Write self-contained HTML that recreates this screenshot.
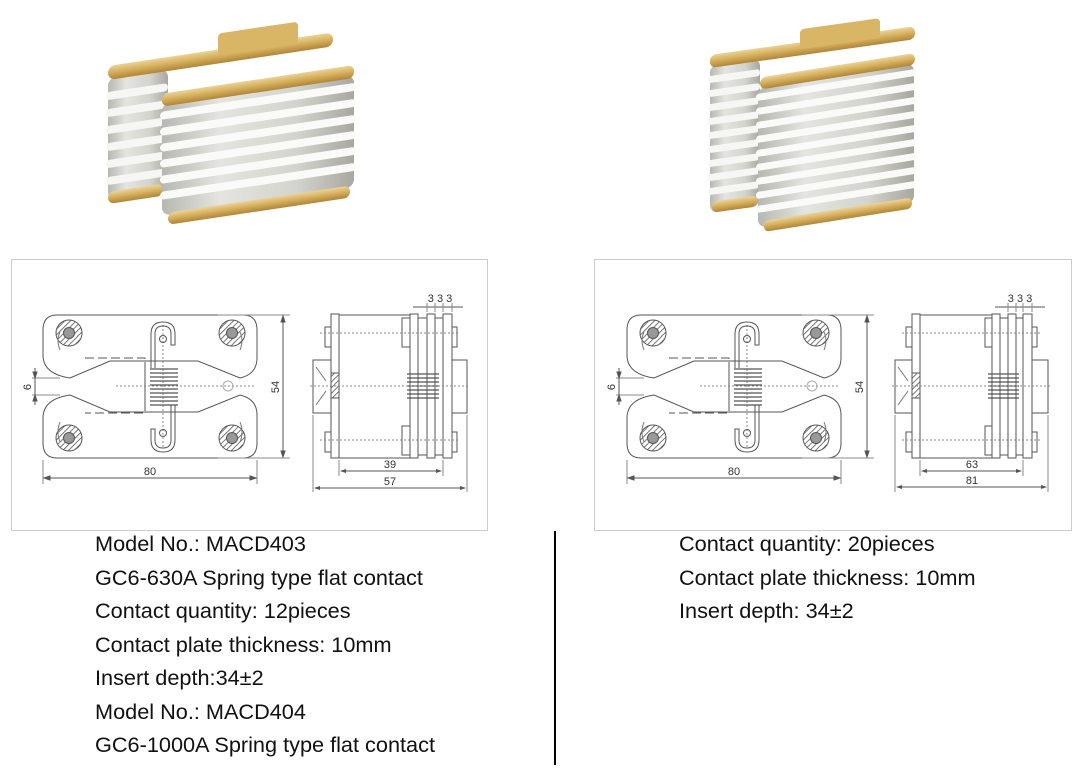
<!DOCTYPE html>
<html><head><meta charset="utf-8"><style>
body{margin:0;background:#fff;width:1084px;height:775px;overflow:hidden;position:relative;font-family:"Liberation Sans",Arial,sans-serif}
.t{position:absolute;font-size:21.7px;color:#111;white-space:nowrap;line-height:22px}
</style></head><body>
<svg width="1084" height="775" style="position:absolute;left:0;top:0" font-family="Liberation Sans, Arial, sans-serif">
<defs>
<linearGradient id="gold" x1="0" y1="0" x2="0" y2="1"><stop offset="0" stop-color="#ecd394"/><stop offset="0.5" stop-color="#d4ae5c"/><stop offset="1" stop-color="#b08538"/></linearGradient>
<linearGradient id="sil" x1="0" y1="0" x2="1" y2="0"><stop offset="0" stop-color="#b8b8b2"/><stop offset="0.3" stop-color="#e4e4e0"/><stop offset="0.7" stop-color="#d4d4ce"/><stop offset="1" stop-color="#a8a8a0"/></linearGradient>
<pattern id="hatch" width="4" height="4" patternUnits="userSpaceOnUse" patternTransform="rotate(45)"><rect width="4" height="4" fill="#fff"/><line x1="0" y1="0" x2="0" y2="4" stroke="#555" stroke-width="1.6"/></pattern>
<g id="screw"><circle r="13" fill="url(#hatch)" stroke="#555"/><circle r="5.5" fill="#999" stroke="#555"/></g>
<g id="front" fill="none" stroke="#555" stroke-width="1">
 <path d="M57,315 H243 Q257,315 257,330 V358 Q257,374 240,378 L198,361 H110 L70,378 Q43,374 43,355 V330 Q43,315 57,315Z"/>
 <path d="M57,458 H243 Q257,458 257,443 V415 Q257,399 240,395 L198,412 H110 L70,395 Q43,399 43,418 V443 Q43,458 57,458Z"/>
 <path d="M85,358 H145 V413 H85" stroke-dasharray="9,4"/>
 <line x1="145" y1="362" x2="145" y2="411"/>
 <line x1="116" y1="386" x2="255" y2="386" stroke-dasharray="2,2" stroke="#888"/>
 <line x1="163" y1="325" x2="163" y2="448" stroke-dasharray="2,2" stroke="#888"/>
 <circle cx="228" cy="386" r="5" stroke="#aaa"/>
 <path d="M151,368 V334 Q151,322 163,322 Q175,322 175,334 V345 H171 V334 Q171,326 163,326 Q155,326 155,334 V368"/>
 <path d="M175,405 V440 Q175,452 163,452 Q151,452 151,440 V429 H155 V440 Q155,448 163,448 Q171,448 171,440 V405"/>
 <circle cx="163" cy="339" r="3.5"/><circle cx="163" cy="433" r="3.5"/>
 <g stroke-width="1.3"><path d="M150,369 H178 M150,373 H178 M150,377 H178 M150,381 H178 M150,385 H178 M150,389 H178 M150,393 H178 M150,397 H178 M150,401 H178 M150,405 H178"/></g>
 <use href="#screw" x="69" y="333"/><use href="#screw" x="232" y="333"/><use href="#screw" x="69" y="438"/><use href="#screw" x="232" y="438"/>
 <path d="M60,350 Q56,340 60,332 M240,350 Q244,340 240,332 M60,422 Q56,432 60,442 M240,422 Q244,432 240,442" stroke="#777"/>
 <line x1="218" y1="315" x2="290" y2="315" stroke="#888"/><line x1="218" y1="458" x2="290" y2="458" stroke="#888"/>
 <line x1="283" y1="318" x2="283" y2="455"/><path d="M283,316 l-2,6 h4z M283,457 l-2,-6 h4z" fill="#555"/>
 <line x1="43" y1="460" x2="43" y2="484" stroke="#888"/><line x1="257" y1="460" x2="257" y2="484" stroke="#888"/>
 <line x1="45" y1="478" x2="255" y2="478"/><path d="M44,478 l6,-2 v4z M256,478 l-6,-2 v4z" fill="#555"/>
 <line x1="32" y1="378" x2="60" y2="378" stroke="#888"/><line x1="32" y1="395" x2="60" y2="395" stroke="#888"/>
 <line x1="35" y1="368" x2="35" y2="405"/><path d="M35,378 l-2,-6 h4z M35,395 l-2,6 h4z" fill="#555"/>
</g>
</defs>
<rect x="11.5" y="259.5" width="476" height="271" fill="none" stroke="#ccc"/>
<rect x="594.5" y="259.5" width="477" height="271" fill="none" stroke="#ccc"/>
<use href="#front"/>
<use href="#front" x="584"/>
<g font-size="11" fill="#333" text-anchor="middle">
<text x="150" y="475">80</text><text x="734" y="475">80</text>
<text transform="translate(31,387) rotate(-90)">6</text><text transform="translate(615,387) rotate(-90)">6</text>
<text transform="translate(279,387) rotate(-90)">54</text><text transform="translate(863,387) rotate(-90)">54</text>
</g>
<g fill="#fff" stroke="#555" stroke-width="1">
 <rect x="313" y="360" width="18" height="53"/>
 <rect x="325" y="327" width="6" height="20"/><rect x="325" y="432" width="6" height="20"/>
 <line x1="339" y1="315" x2="410" y2="315"/><line x1="339" y1="458" x2="410" y2="458"/>
 <rect x="331" y="314" width="8" height="144"/>
 <rect x="402" y="318" width="8" height="29"/><rect x="402" y="426" width="8" height="29"/>
 <rect x="410" y="314" width="8" height="144"/><rect x="418" y="318" width="9" height="137"/><rect x="427" y="314" width="8" height="144"/><rect x="435" y="318" width="8" height="137"/><rect x="443" y="314" width="9" height="144"/>
 <rect x="452" y="327" width="5" height="20"/><rect x="452" y="432" width="5" height="20"/>
 <rect x="452" y="360" width="15" height="53"/>
 <g stroke-width="1.3"><path d="M407,374 H439 M407,378 H439 M407,382 H439 M407,386 H439 M407,390 H439 M407,394 H439 M407,398 H439"/></g>
 <rect x="331" y="373" width="8" height="25" fill="url(#hatch)"/>
 <path d="M316,367 l10,14 M316,405 l10,-14" stroke="#777"/>
</g>
<g fill="#fff" stroke="#555" stroke-width="1">
 <rect x="895" y="360" width="17" height="53"/>
 <rect x="906" y="327" width="6" height="20"/><rect x="906" y="432" width="6" height="20"/>
 <line x1="920" y1="315" x2="992" y2="315"/><line x1="920" y1="458" x2="992" y2="458"/>
 <rect x="912" y="314" width="8" height="144"/>
 <rect x="985" y="318" width="7" height="29"/><rect x="985" y="426" width="7" height="29"/>
 <rect x="992" y="314" width="8" height="144"/><rect x="1000" y="318" width="8" height="137"/><rect x="1008" y="314" width="8" height="144"/><rect x="1016" y="318" width="7" height="137"/><rect x="1023" y="314" width="9" height="144"/>
 <rect x="1032" y="327" width="5" height="20"/><rect x="1032" y="432" width="5" height="20"/>
 <rect x="1032" y="360" width="16" height="53"/>
 <g stroke-width="1.3"><path d="M988,374 H1019 M988,378 H1019 M988,382 H1019 M988,386 H1019 M988,390 H1019 M988,394 H1019 M988,398 H1019"/></g>
 <rect x="912" y="373" width="8" height="25" fill="url(#hatch)"/>
 <path d="M898,367 l10,14 M898,405 l10,-14" stroke="#777"/>
</g>
<g stroke="#888" stroke-dasharray="2,2" fill="none">
 <line x1="310" y1="386" x2="470" y2="386"/><line x1="320" y1="333" x2="460" y2="333"/><line x1="320" y1="440" x2="460" y2="440"/>
 <line x1="892" y1="386" x2="1050" y2="386"/><line x1="902" y1="333" x2="1040" y2="333"/><line x1="902" y1="440" x2="1040" y2="440"/>
</g>
<g stroke="#555" fill="none">
 <line x1="413" y1="307" x2="463" y2="307"/><path d="M427,303 V312 M435,303 V312 M443,303 V312 M452,303 V312" stroke="#888"/>
 <line x1="995" y1="307" x2="1045" y2="307"/><path d="M1008,303 V312 M1016,303 V312 M1023,303 V312 M1032,303 V312" stroke="#888"/>
 <line x1="341" y1="471" x2="441" y2="471"/><line x1="315" y1="488" x2="465" y2="488"/>
 <line x1="922" y1="471" x2="1021" y2="471"/><line x1="897" y1="487" x2="1046" y2="487"/>
 <path d="M339,460 V476 M443,460 V476 M313,415 V492 M467,415 V492 M920,460 V476 M1023,460 V476 M895,415 V492 M1048,415 V492" stroke="#888"/>
</g>
<g fill="#555"><path d="M340,471 l6,-2 v4z M442,471 l-6,-2 v4z M314,488 l6,-2 v4z M466,488 l-6,-2 v4z M921,471 l6,-2 v4z M1022,471 l-6,-2 v4z M896,487 l6,-2 v4z M1047,487 l-6,-2 v4z"/></g>
<g font-size="11" fill="#333" text-anchor="middle">
<text x="390" y="468">39</text><text x="390" y="485">57</text><text x="440" y="302">3 3 3</text>
<text x="972" y="468">63</text><text x="972" y="484">81</text><text x="1020" y="302">3 3 3</text>
</g>
<!-- photo left (skewed) -->
<g transform="translate(108,0) skewY(-8.5) translate(-108,0)">
 <rect x="108" y="78" width="60" height="122" rx="8" fill="url(#sil)"/>
 <g fill="#f6f6f4"><rect x="106" y="92" width="62" height="8" rx="4"/><rect x="106" y="109" width="62" height="8" rx="4"/><rect x="106" y="126" width="62" height="8" rx="4"/><rect x="106" y="143" width="62" height="8" rx="4"/><rect x="106" y="160" width="62" height="8" rx="4"/><rect x="106" y="177" width="62" height="8" rx="4"/></g>
 <rect x="108" y="192" width="55" height="12" rx="6" fill="url(#gold)"/>
 <rect x="108" y="66" width="225" height="14" rx="7" fill="url(#gold)"/>
 <rect x="218" y="50" width="80" height="22" rx="4" fill="#d8b666"/>
</g>
<g transform="translate(160,0) skewY(-8.5) translate(-160,0)">
 <rect x="162" y="104" width="192" height="112" rx="8" fill="url(#sil)"/>
 <g fill="#fafaf8"><rect x="160" y="112" width="196" height="8" rx="4"/><rect x="160" y="128" width="196" height="8" rx="4"/><rect x="160" y="144" width="196" height="8" rx="4"/><rect x="160" y="160" width="196" height="8" rx="4"/><rect x="160" y="176" width="196" height="8" rx="4"/><rect x="160" y="192" width="196" height="8" rx="4"/></g>
 <rect x="162" y="94" width="192" height="13" rx="6" fill="url(#gold)"/>
 <rect x="168" y="214" width="182" height="12" rx="6" fill="url(#gold)"/>
</g>
<!-- photo right -->
<g transform="translate(710,0) skewY(-8) translate(-710,0)">
 <rect x="710" y="65" width="50" height="148" rx="8" fill="url(#sil)"/>
 <g fill="#f6f6f4"><rect x="708" y="76" width="52" height="7" rx="3"/><rect x="708" y="90" width="52" height="7" rx="3"/><rect x="708" y="104" width="52" height="7" rx="3"/><rect x="708" y="118" width="52" height="7" rx="3"/><rect x="708" y="132" width="52" height="7" rx="3"/><rect x="708" y="146" width="52" height="7" rx="3"/><rect x="708" y="160" width="52" height="7" rx="3"/><rect x="708" y="174" width="52" height="7" rx="3"/><rect x="708" y="188" width="52" height="7" rx="3"/></g>
 <rect x="712" y="202" width="45" height="11" rx="5" fill="url(#gold)"/>
 <rect x="710" y="55" width="205" height="13" rx="6" fill="url(#gold)"/>
 <rect x="800" y="42" width="80" height="20" rx="4" fill="#d8b666"/>
</g>
<g transform="translate(757,0) skewY(-9) translate(-757,0)">
 <rect x="758" y="88" width="156" height="140" rx="8" fill="url(#sil)"/>
 <g fill="#fafaf8"><rect x="756" y="94" width="160" height="7" rx="3"/><rect x="756" y="108" width="160" height="7" rx="3"/><rect x="756" y="122" width="160" height="7" rx="3"/><rect x="756" y="136" width="160" height="7" rx="3"/><rect x="756" y="150" width="160" height="7" rx="3"/><rect x="756" y="164" width="160" height="7" rx="3"/><rect x="756" y="178" width="160" height="7" rx="3"/><rect x="756" y="192" width="160" height="7" rx="3"/><rect x="756" y="206" width="160" height="7" rx="3"/></g>
 <rect x="760" y="78" width="155" height="12" rx="6" fill="url(#gold)"/>
 <rect x="764" y="222" width="148" height="11" rx="5" fill="url(#gold)"/>
</g>
<line x1="555" y1="531" x2="555" y2="765" stroke="#000" stroke-width="2"/>
</svg>
<div class="t" style="left:95px;top:533px">Model No.: MACD403</div>
<div class="t" style="left:95px;top:567px">GC6-630A Spring type flat contact</div>
<div class="t" style="left:95px;top:600px">Contact quantity: 12pieces</div>
<div class="t" style="left:95px;top:634px">Contact plate thickness: 10mm</div>
<div class="t" style="left:95px;top:667px">Insert depth:34±2</div>
<div class="t" style="left:95px;top:701px">Model No.: MACD404</div>
<div class="t" style="left:95px;top:734px">GC6-1000A Spring type flat contact</div>
<div class="t" style="left:679px;top:533px">Contact quantity: 20pieces</div>
<div class="t" style="left:679px;top:567px">Contact plate thickness: 10mm</div>
<div class="t" style="left:679px;top:600px">Insert depth: 34±2</div>
</body></html>
